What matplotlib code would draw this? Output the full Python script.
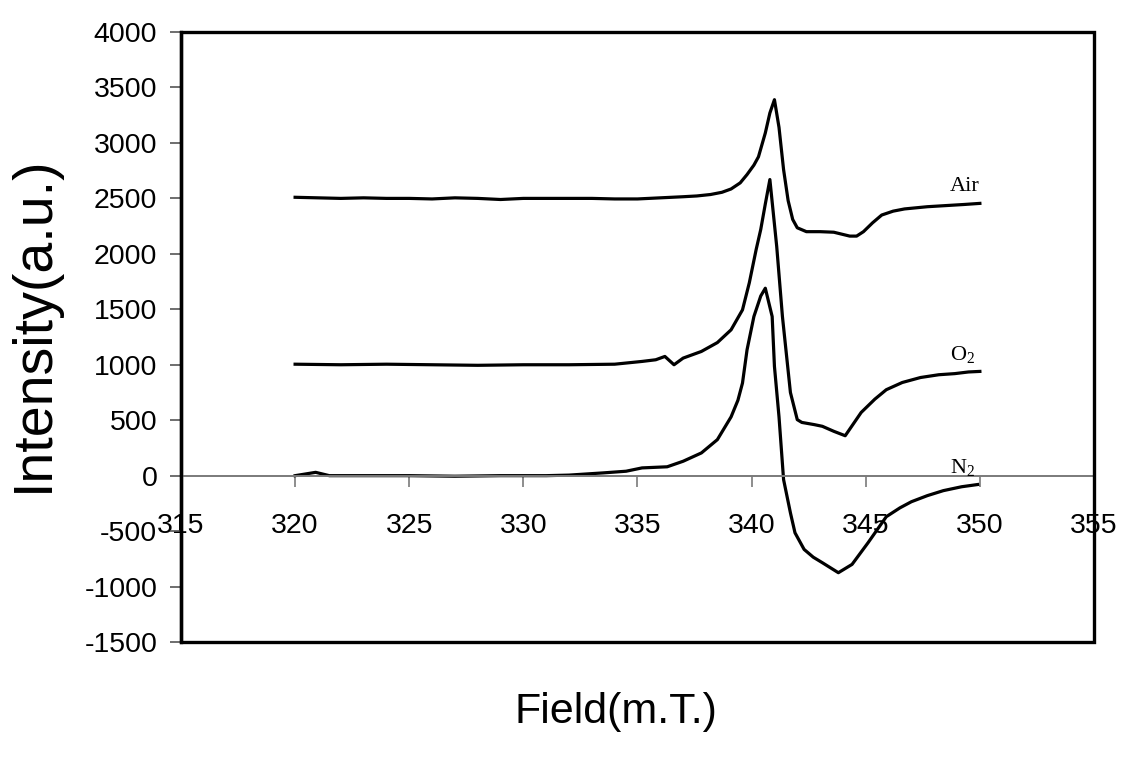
import matplotlib
matplotlib.use("Agg")
import matplotlib.pyplot as plt
from matplotlib.patches import Rectangle

# ESR spectra under different atmospheres (offset traces)
field_air = [320, 321, 322, 323, 324, 325, 326, 327, 328, 329, 330, 331, 332, 333,
             334, 335, 336, 337, 337.6, 338.2, 338.7, 339.1, 339.5, 339.8, 340.1,
             340.3, 340.6, 340.8, 341.0, 341.2, 341.4, 341.6, 341.8, 342.0, 342.4,
             343.0, 343.6, 344.0, 344.3, 344.6, 344.9, 345.3, 345.7, 346.2, 346.7,
             347.2, 347.7, 348.5, 349.3, 350.0]
air = [2510, 2505, 2500, 2505, 2500, 2500, 2495, 2505, 2500, 2490, 2500, 2500, 2500, 2500,
       2495, 2495, 2505, 2515, 2522, 2535, 2555, 2585, 2640, 2715, 2800,
       2875, 3090, 3270, 3390, 3140, 2760, 2480, 2310, 2235, 2200,
       2200, 2195, 2175, 2160, 2160, 2200, 2280, 2350, 2385, 2405,
       2415, 2425, 2435, 2445, 2455]

field_o2 = [320, 322, 324, 326, 328, 330, 332, 334, 335.2, 335.8, 336.2, 336.6, 337.0,
            337.8, 338.5, 339.1, 339.6, 339.9, 340.2, 340.4, 340.6, 340.8, 341.1,
            341.35, 341.7, 342.0, 342.2, 342.75, 343.1, 343.6, 344.1, 344.8, 345.4,
            345.9, 346.6, 347.4, 348.2, 348.9, 349.5, 350.0]
o2 = [1005, 1000, 1005, 1000, 995, 1000, 1000, 1005, 1030, 1045, 1075, 1000, 1060,
      1120, 1200, 1315, 1495, 1740, 2040, 2220, 2450, 2670, 2065,
      1435, 750, 505, 480, 460, 445, 400, 360, 570, 690,
      775, 840, 885, 910, 920, 935, 940]

field_n2 = [320, 320.9, 321.5, 323, 325, 327, 329, 331, 332, 333.5, 334.5, 335.2, 336.3,
            337.0, 337.8, 338.5, 339.1, 339.4, 339.6, 339.8, 340.1, 340.4, 340.6,
            340.9, 341.0, 341.2, 341.4, 341.7, 341.9, 342.3, 342.7, 343.1, 343.8,
            344.4, 345.1, 345.9, 346.5, 347.0, 347.7, 348.4, 349.2, 349.9]
n2 = [0, 30, 0, 0, 0, -5, 0, 0, 5, 25, 40, 70, 80,
      130, 205, 325, 530, 680, 835, 1135, 1435, 1620, 1690,
      1435, 985, 530, -35, -335, -515, -665, -735, -785, -875,
      -800, -605, -370, -290, -235, -180, -135, -100, -80]

series_labels = ["Air", r"$\mathregular{O_2}$", r"$\mathregular{N_2}$"]
label_pos = [(348.7, 2610), (348.7, 1090), (348.7, 75)]

x_ticks = list(range(315, 356, 5))
y_ticks = list(range(-1500, 4001, 500))

plt.rcParams["font.family"] = ["Liberation Sans", "DejaVu Sans"]
plt.rcParams["axes.unicode_minus"] = False

fig = plt.figure(figsize=(11.29, 7.70), dpi=100)
ax = fig.add_axes([0.1603, 0.1662, 0.969 - 0.1603, 0.9584 - 0.1662])
ax.set_xlim(315, 355)
ax.set_ylim(-1500, 4000)

for fx, fy in [(field_air, air), (field_o2, o2), (field_n2, n2)]:
    ax.plot(fx, fy, color="black", lw=2.3, solid_joinstyle="round")

for text, (tx, ty) in zip(series_labels, label_pos):
    ax.text(tx, ty, text, fontsize=16, family="Liberation Serif",
            ha="left", va="center")

# x axis crosses at zero intensity
ax.spines["bottom"].set_position(("data", 0))
ax.spines["bottom"].set_color("#7a7a7a")
ax.spines["bottom"].set_linewidth(1.4)
ax.spines["top"].set_visible(False)
ax.spines["right"].set_visible(False)
ax.spines["left"].set_color("black")
ax.spines["left"].set_linewidth(2.4)
ax.add_patch(Rectangle((0, 0), 1, 1, transform=ax.transAxes, fill=False,
                       edgecolor="black", lw=2.4, clip_on=False, zorder=5))

ax.set_xticks(x_ticks)
ax.set_yticks(y_ticks)
ax.tick_params(axis="x", direction="out", length=8, width=1.2, color="#7a7a7a",
               labelsize=20.5, pad=19)
ax.tick_params(axis="y", direction="out", length=8, width=1.2, color="#555555",
               labelsize=20.5, pad=9)

fig.text(0.030, 0.58, "Intensity(a.u.)", rotation=90, fontsize=40,
         ha="center", va="center")
fig.text(0.546, 0.075, "Field(m.T.)", fontsize=31, ha="center", va="center")

fig.savefig("out.png", dpi=100, facecolor="white")
